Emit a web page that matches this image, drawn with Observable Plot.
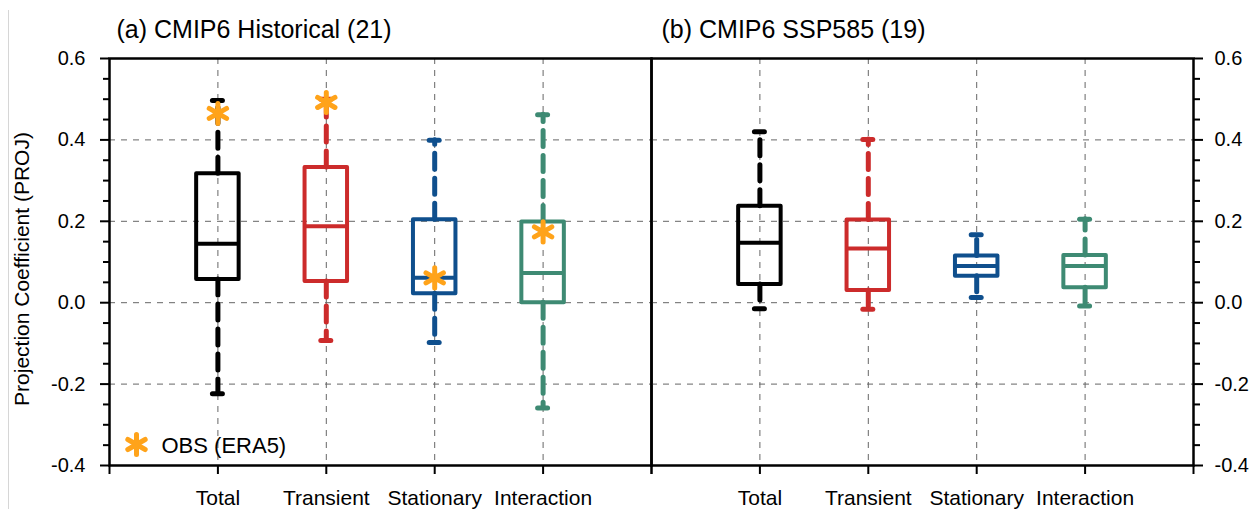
<!DOCTYPE html>
<html><head><meta charset="utf-8">
<script src="https://cdn.jsdelivr.net/npm/d3@7"></script>
<script src="https://cdn.jsdelivr.net/npm/@observablehq/plot@0.6"></script>
<style>
body{margin:0;background:#fff;}
#chart{position:relative;width:1255px;height:509px;overflow:hidden;background:#fff;}
#chart svg{position:absolute;left:0;top:0;}
#edge{position:absolute;left:8px;top:10px;bottom:0;border-left:1px solid #d6d6d6;}
</style></head><body><div id="chart"><div id="edge"></div></div>
<script>
// ---- data ----
const categories = ["Total", "Transient", "Stationary", "Interaction"];

const histTitle = "(a) CMIP6 Historical (21)";
const histMin = [-0.224, -0.093, -0.098, -0.259];
const histQ1  = [0.057, 0.052, 0.022, 0.000];
const histMed = [0.145, 0.188, 0.061, 0.073];
const histQ3  = [0.317, 0.332, 0.204, 0.198];
const histMax = [0.497, 0.500, 0.399, 0.462];
const obsEra5 = [0.465, 0.492, 0.061, 0.174];

const sspTitle = "(b) CMIP6 SSP585 (19)";
const sspMin = [-0.015, -0.016, 0.013, -0.008];
const sspQ1  = [0.045, 0.030, 0.065, 0.037];
const sspMed = [0.147, 0.133, 0.090, 0.090];
const sspQ3  = [0.237, 0.203, 0.115, 0.116];
const sspMax = [0.420, 0.401, 0.167, 0.205];

const yMajorTicks = [-0.4, -0.2, 0.0, 0.2, 0.4, 0.6];
const yMinorTicks = [-0.35, -0.3, -0.25, -0.15, -0.1, -0.05, 0.05, 0.1, 0.15, 0.25, 0.3, 0.35, 0.45, 0.5, 0.55];
const legendLabel = "OBS (ERA5)";
const yLabel = "Projection Coefficient (PROJ)";

// ---- styles ----
const palette = ["#000000", "#cc2b2b", "#0f4f8d", "#3e8a73"];
const starColor = "#ffa31a";
const gridColor = "#666";
const FONT = "'Liberation Sans', Arial, Helvetica, sans-serif";
const boxHalf = 0.196, capHalf = 0.046;

function rowsOf(mn, q1, md, q3, mx) {
  return categories.map((c, k) => ({i: k + 1, cat: c, min: mn[k], q1: q1[k], med: md[k], q3: q3[k], max: mx[k]}));
}

function panel({rows, obs, title, side, marginLeft, marginRight, titleDx}) {
  const xTicks = [0, 1, 2, 3, 4, 5];
  const marks = [
    Plot.gridY({ticks: [-0.2, 0, 0.2, 0.4], stroke: gridColor, strokeOpacity: 1, strokeWidth: 1, strokeDasharray: "6,6"}),
    Plot.gridX({ticks: [1, 2, 3, 4], stroke: gridColor, strokeOpacity: 1, strokeWidth: 1, strokeDasharray: "6,6"}),
    // whiskers
    Plot.ruleX(rows, {x: "i", y1: "q3", y2: "max", stroke: "cat", strokeWidth: 5, strokeDasharray: "16,9", strokeLinecap: "round"}),
    Plot.ruleX(rows, {x: "i", y1: "q1", y2: "min", stroke: "cat", strokeWidth: 5, strokeDasharray: "16,9", strokeLinecap: "round"}),
    // caps
    Plot.ruleY(rows, {y: "max", x1: d => d.i - capHalf, x2: d => d.i + capHalf, stroke: "cat", strokeWidth: 5, strokeLinecap: "round"}),
    Plot.ruleY(rows, {y: "min", x1: d => d.i - capHalf, x2: d => d.i + capHalf, stroke: "cat", strokeWidth: 5, strokeLinecap: "round"}),
    // boxes
    Plot.rect(rows, {x1: d => d.i - boxHalf, x2: d => d.i + boxHalf, y1: "q1", y2: "q3", stroke: "cat", fill: "white", fillOpacity: 0, strokeWidth: 4, strokeLinejoin: "round"}),
    Plot.ruleY(rows, {y: "med", x1: d => d.i - boxHalf, x2: d => d.i + boxHalf, stroke: "cat", strokeWidth: 4}),
    Plot.frame({stroke: "black", strokeWidth: 2.5}),
    Plot.axisX({ticks: xTicks, tickFormat: i => (i >= 1 && i <= 4 ? categories[i - 1] : ""), tickSize: 9, tickPadding: 16, strokeWidth: 2, fontSize: 21, label: null}),
    Plot.axisY({anchor: side, ticks: yMajorTicks, tickFormat: d => d.toFixed(1), tickSize: 9, tickPadding: side === "left" ? 15 : 12, strokeWidth: 2, fontSize: 20, label: null}),
    Plot.axisY({anchor: side, ticks: yMinorTicks, tickFormat: () => "", tickSize: 6, strokeWidth: 2, label: null}),
    Plot.text([title], {frameAnchor: "top-left", dx: titleDx, dy: -21, lineAnchor: "bottom", textAnchor: "start", fontSize: 25, fill: "black"})
  ];
  if (obs) {
    const obsRows = categories.map((c, k) => ({i: k + 1, v: obs[k]}));
    marks.push(Plot.dot(obsRows, {x: "i", y: "v", symbol: "asterisk", r: 9.5, stroke: starColor, strokeWidth: 5, strokeLinecap: "round"}));
    marks.push(Plot.dot([legendLabel], {frameAnchor: "bottom-left", dx: 27, dy: -21, symbol: "asterisk", r: 9.5, stroke: starColor, strokeWidth: 5, strokeLinecap: "round"}));
    marks.push(Plot.text([legendLabel], {frameAnchor: "bottom-left", dx: 52, dy: -20, lineAnchor: "middle", textAnchor: "start", fontSize: 22, fill: "black"}));
    marks.push(Plot.text([yLabel], {frameAnchor: "left", dx: -87, dy: 7, rotate: -90, lineAnchor: "middle", textAnchor: "middle", fontSize: 21, fill: "black"}));
  }
  return Plot.plot({
    width: 1255, height: 509,
    marginTop: 58, marginBottom: 44, marginLeft, marginRight,
    style: {background: "transparent", overflow: "visible", fontFamily: FONT, color: "black"},
    x: {type: "linear", domain: [0, 5]},
    y: {type: "linear", domain: [-0.4, 0.6]},
    color: {domain: categories, range: palette},
    marks
  });
}

const chart = document.getElementById("chart");
chart.appendChild(panel({rows: rowsOf(histMin, histQ1, histMed, histQ3, histMax), obs: obsEra5, title: histTitle, side: "left", marginLeft: 109, marginRight: 604, titleDx: 7}));
chart.appendChild(panel({rows: rowsOf(sspMin, sspQ1, sspMed, sspQ3, sspMax), obs: null, title: sspTitle, side: "right", marginLeft: 651, marginRight: 62, titleDx: 10}));
</script>
</body></html>
